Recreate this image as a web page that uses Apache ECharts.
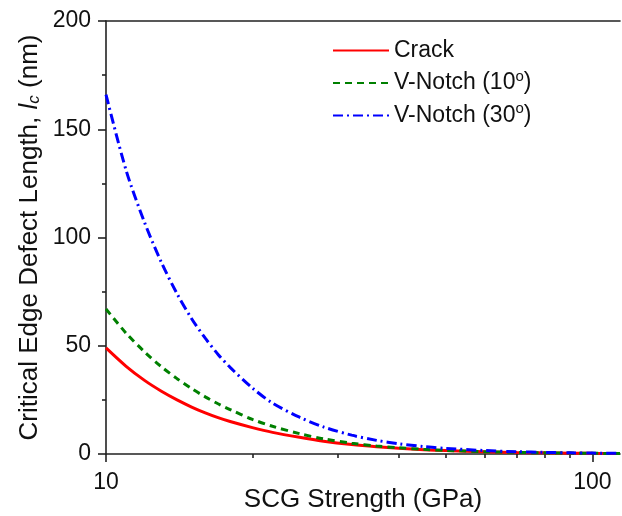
<!DOCTYPE html>
<html><head><meta charset="utf-8">
<script src="https://cdn.jsdelivr.net/npm/echarts@6/dist/echarts.min.js"></script>
<style>html,body{margin:0;padding:0;background:#fff}#c{width:622px;height:516px}</style>
</head><body><div id="c"></div>
<script>
// SCG strength (GPa)
const strength = [10, 11, 12, 13, 14, 15, 16, 17, 18, 20, 22, 25, 28, 32, 36, 40, 45, 50, 60, 70, 80, 90, 100, 114];
// Critical edge defect length l_c (nm)
const crack   = [49, 40.5, 34, 29, 25, 21.7, 19, 16.8, 15, 12.2, 10, 7.7, 5.93, 4.36, 3.33, 2.61, 1.99, 1.56, 1.03, 0.72, 0.53, 0.40, 0.32, 0.24];
const notch10 = [67, 55.8, 47.2, 40.3, 34.8, 30.2, 26.4, 23.2, 20.5, 16.0, 12.8, 9.4, 7.0, 5.0, 3.7, 2.85, 2.15, 1.68, 1.08, 0.74, 0.54, 0.41, 0.32, 0.23];
const notch30 = [166, 131, 107, 88.5, 74, 62.5, 53.5, 46, 40, 30.5, 23.5, 17.0, 12.5, 8.7, 6.3, 4.75, 3.45, 2.6, 1.6, 1.05, 0.74, 0.54, 0.41, 0.29];
const seriesNames = ['Crack', 'V-Notch (10{sup|o})', 'V-Notch (30{sup|o})'];
const xMajorTicks = [10, 100];
const xMinorTicks = [20, 30, 40, 50, 60, 70, 80, 90];
const yTicks = [0, 50, 100, 150, 200];

const FONT = '"Liberation Sans", Arial, sans-serif';
const AX = '#222';
const pair = arr => strength.map((x, i) => [x, arr[i]]);

const chart = echarts.init(document.getElementById('c'), null, {renderer: 'canvas'});
chart.setOption({
  animation: false,
  backgroundColor: '#fff',
  textStyle: {fontFamily: FONT, color: '#111'},
  grid: {left: 106, top: 21, right: 2, bottom: 62, containLabel: false, outerBoundsMode: 'none'},
  legend: {
    orient: 'vertical', left: 332, top: 39, padding: 0, itemWidth: 56, itemHeight: 16, itemGap: 7,
    data: seriesNames,
    itemStyle: {opacity: 0},
    textStyle: {fontFamily: FONT, fontSize: 23, color: '#111',
      rich: {sup: {fontFamily: FONT, fontSize: 15, color: '#111', padding: [0, 0, 13, 0]}}}
  },
  xAxis: [{
    type: 'log', logBase: 10, min: 10, max: 114, position: 'bottom',
    name: 'SCG Strength (GPa)', nameLocation: 'middle', nameGap: 33, nameMoveOverlap: false,
    nameTextStyle: {fontFamily: FONT, fontSize: 26, color: '#111'},
    axisLine: {show: true, onZero: false, lineStyle: {color: AX, width: 1.6}},
    axisTick: {show: true, length: 8, customValues: xMajorTicks, lineStyle: {color: AX, width: 1.6}},
    axisLabel: {fontFamily: FONT, fontSize: 23, color: '#111', margin: 17, customValues: xMajorTicks},
    splitLine: {show: false}
  }, {
    type: 'log', logBase: 10, min: 10, max: 114, position: 'bottom',
    axisLine: {show: false},
    axisTick: {show: true, length: 4, customValues: xMinorTicks, lineStyle: {color: AX, width: 1.6}},
    axisLabel: {show: false},
    splitLine: {show: false}
  }, {
    type: 'log', logBase: 10, min: 10, max: 114, position: 'top',
    axisLine: {show: true, onZero: false, lineStyle: {color: AX, width: 1.6}},
    axisTick: {show: false}, axisLabel: {show: false}, splitLine: {show: false}
  }],
  yAxis: {
    type: 'value', min: 0, max: 200, interval: 50,
    name: 'Critical Edge Defect Length, {it|l}{sub|c} (nm)', nameLocation: 'middle', nameGap: 63, nameMoveOverlap: false,
    nameTextStyle: {fontFamily: FONT, fontSize: 26, color: '#111',
      rich: {it: {fontFamily: FONT, fontSize: 26, fontStyle: 'italic', color: '#111'},
             sub: {fontFamily: FONT, fontSize: 17, fontStyle: 'italic', color: '#111', padding: [10, 0, 0, 0]}}},
    axisLine: {show: true, lineStyle: {color: AX, width: 1.6}},
    axisTick: {show: true, length: 8, lineStyle: {color: AX, width: 1.6}},
    minorTick: {show: true, splitNumber: 2, length: 4, lineStyle: {color: AX, width: 1.6}},
    axisLabel: {fontFamily: FONT, fontSize: 23, color: '#111', margin: 15, customValues: yTicks},
    splitLine: {show: false}, minorSplitLine: {show: false}
  },
  series: [
    {name: seriesNames[0], type: 'line', data: pair(crack), symbol: 'none', smooth: 0.3,
     lineStyle: {color: '#ff0000', width: 3}, itemStyle: {color: '#ff0000'}},
    {name: seriesNames[1], type: 'line', data: pair(notch10), symbol: 'none', smooth: 0.3,
     lineStyle: {color: '#008000', width: 3, type: [7, 5]}, itemStyle: {color: '#008000'}},
    {name: seriesNames[2], type: 'line', data: pair(notch30), symbol: 'none', smooth: 0.3,
     lineStyle: {color: '#0000ff', width: 3, type: [10, 4, 2, 4]}, itemStyle: {color: '#0000ff'}}
  ]
});
</script></body></html>
